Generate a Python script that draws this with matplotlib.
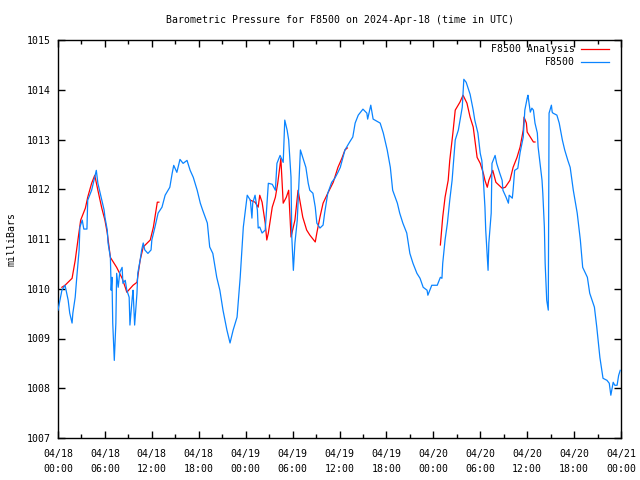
import numpy as np
import matplotlib
matplotlib.use("Agg")
import matplotlib.pyplot as plt

# hours since 2024-04-18 00:00 UTC, pressure in millibars
obs_hours = [0.0, 0.5, 0.9, 1.3, 1.5, 1.8, 1.9, 2.2, 2.4, 2.7, 2.8, 3.1, 3.3, 3.7, 3.8, 4.3, 4.6, 4.9,
             5.1, 5.4, 5.6, 5.9, 6.0, 6.3, 6.4, 6.7, 6.8, 6.9, 7.0, 7.2, 7.4, 7.5, 7.7, 7.9, 8.2, 8.3,
             8.6, 8.8, 9.1, 9.2, 9.5, 9.6, 9.8, 10.1, 10.2, 10.5, 10.7, 10.9, 11.1, 11.5, 11.9, 12.0,
             12.4, 12.8, 13.3, 13.7, 14.3, 14.6, 14.8, 15.2, 15.6, 16.0, 16.5, 16.9, 17.3, 17.8, 18.2,
             18.5, 19.1, 19.4, 19.8, 20.3, 20.7, 21.1, 21.6, 22.0, 22.4, 22.9, 23.3, 23.7, 24.2, 24.6,
             24.8, 24.9, 25.2, 25.5, 25.6, 25.8, 26.1, 26.5, 26.9, 27.4, 27.8, 28.0, 28.4, 28.8, 29.0,
             29.3, 29.5, 29.8, 29.9, 30.1, 30.3, 30.6, 31.0, 31.3, 31.7, 32.0, 32.2, 32.6, 32.9, 33.1,
             33.5, 33.9, 34.1, 34.5, 35.0, 35.4, 35.8, 36.1, 36.7, 37.3, 37.7, 38.0, 38.4, 39.0, 39.5,
             39.6, 40.0, 40.3, 41.2, 41.6, 42.1, 42.5, 42.8, 43.4, 43.7, 44.1, 44.6, 45.0, 45.4, 45.9,
             46.3, 46.7, 47.2, 47.3, 47.8, 48.5, 48.9, 49.1, 49.2, 49.5, 49.8, 50.1, 50.4, 50.8, 51.2,
             51.7, 51.9, 52.2, 52.7, 53.1, 53.3, 53.7, 54.0, 54.2, 54.4, 54.6, 54.7, 54.9, 55.0, 55.1,
             55.4, 55.5, 55.9, 56.1, 56.5, 56.8, 56.9, 57.3, 57.6, 57.7, 58.1, 58.2, 58.4, 58.8, 59.1,
             59.5, 59.7, 60.0, 60.1, 60.4, 60.6, 60.8, 61.0, 61.3, 61.4, 61.6, 61.9, 62.0, 62.2, 62.3,
             62.5, 62.7, 62.75, 62.8, 63.1, 63.2, 63.3, 63.8, 64.1, 64.5, 64.8, 65.2, 65.5, 65.9, 66.4,
             66.8, 67.1, 67.7, 68.0, 68.6, 68.9, 69.3, 69.7, 70.2, 70.5, 70.7, 71.0, 71.2, 71.5, 71.7,
             71.9]
obs_pressure = [1009.57, 1009.97, 1010.07, 1009.77, 1009.51, 1009.31, 1009.51, 1009.83, 1010.23, 1010.78,
                1011.24, 1011.38, 1011.20, 1011.20, 1011.78, 1011.98, 1012.18, 1012.38, 1012.12, 1011.92,
                1011.78, 1011.58, 1011.44, 1011.18, 1010.92, 1010.63, 1009.97, 1010.23, 1009.31, 1008.56,
                1009.31, 1010.31, 1010.03, 1010.33, 1010.43, 1010.11, 1010.17, 1009.97, 1009.83, 1009.27,
                1009.83, 1009.97, 1009.27, 1009.91, 1010.31, 1010.57, 1010.78, 1010.92, 1010.78, 1010.71,
                1010.78, 1010.98, 1011.24, 1011.52, 1011.64, 1011.88, 1012.04, 1012.32, 1012.48, 1012.34,
                1012.60, 1012.52, 1012.58, 1012.38, 1012.24, 1011.98, 1011.72, 1011.58, 1011.32, 1010.84,
                1010.71, 1010.23, 1009.97, 1009.57, 1009.17, 1008.91, 1009.17, 1009.43, 1010.23, 1011.24,
                1011.88, 1011.78, 1011.42, 1011.72, 1011.88, 1011.58, 1011.22, 1011.24, 1011.12, 1011.18,
                1012.12, 1012.10, 1011.98, 1012.52, 1012.68, 1012.54, 1013.39, 1013.19, 1012.99, 1012.24,
                1011.04, 1010.37, 1010.92, 1011.38, 1012.79, 1012.64, 1012.44, 1012.12, 1011.98, 1011.92,
                1011.64, 1011.32, 1011.22, 1011.28, 1011.52, 1011.92, 1012.14, 1012.22, 1012.34, 1012.44,
                1012.79, 1012.95, 1013.05, 1013.33, 1013.49, 1013.61, 1013.53, 1013.41, 1013.69, 1013.41,
                1013.33, 1013.13, 1012.79, 1012.44, 1011.98, 1011.72, 1011.52, 1011.32, 1011.12, 1010.71,
                1010.51, 1010.31, 1010.21, 1010.03, 1009.97, 1009.87, 1010.07, 1010.07, 1010.23, 1010.21,
                1010.51, 1010.98, 1011.32, 1011.78, 1012.18, 1012.99, 1013.19, 1013.65, 1014.21, 1014.15,
                1013.91, 1013.59, 1013.39, 1013.13, 1012.72, 1012.58, 1012.18, 1011.64, 1011.18, 1010.63,
                1010.37, 1010.92, 1011.52, 1012.52, 1012.68, 1012.52, 1012.32, 1012.18, 1011.98, 1011.84,
                1011.72, 1011.88, 1011.82, 1011.98, 1012.38, 1012.42, 1012.74, 1013.05, 1013.59, 1013.83,
                1013.89, 1013.55, 1013.63, 1013.59, 1013.33, 1013.13, 1012.85, 1012.58, 1012.18, 1011.92,
                1011.24, 1010.51, 1009.77, 1009.57, 1011.52, 1013.53, 1013.69, 1013.55, 1013.53, 1013.49,
                1013.33, 1012.99, 1012.79, 1012.58, 1012.44, 1011.98, 1011.52, 1010.98, 1010.43, 1010.23,
                1009.91, 1009.63, 1009.23, 1008.62, 1008.20, 1008.16, 1008.10, 1007.86, 1008.12, 1008.06,
                1008.06, 1008.26, 1008.36]

# analysis series, NaN marks the gaps between the three runs
ana_hours = [0.5, 0.9, 1.8, 2.2, 2.6, 2.9, 3.5, 3.8, 4.3, 4.7, 5.1, 5.6, 6.0, 6.3, 6.7, 7.5, 8.2, 8.6,
             8.8, 9.6, 10.1, 10.5, 10.9, 11.8, 12.2, 12.4, 12.7, 12.9,
             13.0,
             24.6, 25.2, 25.6, 25.8, 26.1, 26.5, 26.7, 26.9, 27.4, 27.8, 28.1, 28.5, 28.8, 29.2, 29.5,
             29.8, 30.3, 30.7, 31.3, 31.8, 32.2, 32.9, 33.1, 33.5, 33.9, 34.5, 35.2, 35.8, 36.3, 36.7,
             37.0,
             37.1,
             48.9, 49.2, 49.5, 49.9, 50.1, 50.5, 50.8, 51.4, 51.8, 52.3, 52.7, 53.1, 53.6, 54.0, 54.4,
             54.6, 54.9, 55.1, 55.6, 56.0, 56.8, 57.2, 57.8, 58.2, 58.7, 59.1, 59.5, 59.6, 59.9, 60.0,
             60.4, 60.8, 61.0]
ana_pressure = [1010.03, 1010.07, 1010.21, 1010.57, 1011.04, 1011.38, 1011.62, 1011.84, 1012.12, 1012.28,
                1011.98, 1011.62, 1011.38, 1011.12, 1010.63, 1010.43, 1010.21, 1010.03, 1009.93, 1010.07,
                1010.13, 1010.57, 1010.84, 1010.98, 1011.24, 1011.44, 1011.74, 1011.74,
                np.nan,
                1011.78, 1011.74, 1011.64, 1011.88, 1011.74, 1011.32, 1010.98, 1011.12, 1011.64, 1011.84,
                1012.12, 1012.62, 1011.72, 1011.84, 1011.98, 1011.04, 1011.38, 1011.98, 1011.44, 1011.18,
                1011.08, 1010.94, 1011.12, 1011.44, 1011.72, 1011.92, 1012.14, 1012.44, 1012.62, 1012.79,
                1012.83,
                np.nan,
                1010.88, 1011.44, 1011.84, 1012.18, 1012.58, 1013.13, 1013.59, 1013.75, 1013.89, 1013.73,
                1013.45, 1013.25, 1012.64, 1012.52, 1012.32, 1012.18, 1012.04, 1012.18, 1012.38, 1012.14,
                1012.02, 1012.04, 1012.18, 1012.44, 1012.64, 1012.85, 1013.19, 1013.45, 1013.33, 1013.15,
                1013.05, 1012.95, 1012.95]

tick_hours = list(range(0, 73, 6))
tick_labels = ["04/18\n00:00", "04/18\n06:00", "04/18\n12:00", "04/18\n18:00",
               "04/19\n00:00", "04/19\n06:00", "04/19\n12:00", "04/19\n18:00",
               "04/20\n00:00", "04/20\n06:00", "04/20\n12:00", "04/20\n18:00",
               "04/21\n00:00"]
y_ticks = list(range(1007, 1016))

plt.rcParams['font.family'] = ['DejaVu Sans Mono']
plt.rcParams['font.size'] = 7.1

fig = plt.figure(figsize=(6.4, 4.8), dpi=100)
ax = fig.add_axes([58 / 640, 42 / 480, 563 / 640, 398 / 480])

red = '#ff0000'
blue = '#0a84ff'
lw = 0.9
ax.plot(ana_hours, ana_pressure, color=red, lw=lw, zorder=2)
ax.plot(obs_hours, obs_pressure, color=blue, lw=lw, zorder=3)

ax.set_xlim(0, 72)
ax.set_ylim(1007, 1015)
ax.set_xticks(tick_hours)
ax.set_xticklabels(tick_labels)
ax.set_xticks(range(3, 72, 6), minor=True)
ax.set_yticks(y_ticks)
for lab in ax.get_xticklabels():
    lab.set_linespacing(1.6)

ax.tick_params(which='major', direction='in', length=5, width=1, top=True, right=True, pad=5)
ax.tick_params(axis='x', which='major', pad=8)
ax.tick_params(which='minor', direction='in', length=3, width=1, top=True, right=True)
for s in ax.spines.values():
    s.set_linewidth(1)

# legend drawn by hand, gnuplot style (text right aligned, key after it)
ax.text(0.918, 0.977, "F8500 Analysis", transform=ax.transAxes, ha='right', va='center')
ax.plot([0.929, 0.979], [0.977, 0.977], transform=ax.transAxes, color=red, lw=lw, clip_on=False)
ax.text(0.918, 0.945, "F8500", transform=ax.transAxes, ha='right', va='center')
ax.plot([0.929, 0.979], [0.945, 0.945], transform=ax.transAxes, color=blue, lw=lw, clip_on=False)

fig.text(339.5 / 640, 1 - 20 / 480, "Barometric Pressure for F8500 on 2024-Apr-18 (time in UTC)",
         ha='center', va='center')
fig.text(12 / 640, 1 - 239 / 480, "milliBars", rotation=90, ha='center', va='center')

fig.savefig("out.png", dpi=100)
